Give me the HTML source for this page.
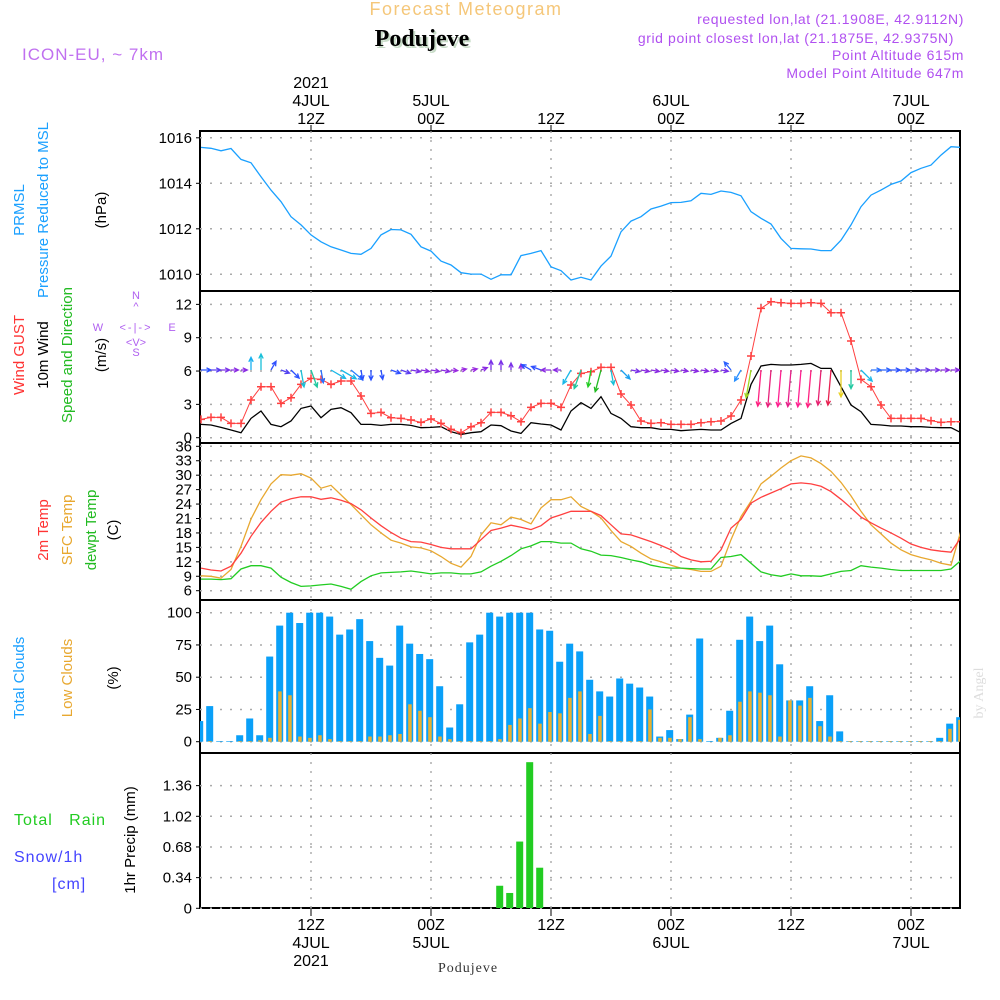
<!DOCTYPE html>
<html><head><meta charset="utf-8">
<style>
html,body{margin:0;padding:0;background:#fff;}
svg{display:block;font-family:"Liberation Sans",sans-serif;}
.tk{font-size:15px;fill:#000;text-anchor:end;}
.tl{font-size:16px;fill:#000;text-anchor:middle;}
</style></head>
<body>
<svg id="chart" width="1000" height="1000" viewBox="0 0 1000 1000" xmlns="http://www.w3.org/2000/svg">
<text x="466" y="15" font-size="18" fill="#f5c77a" text-anchor="middle" letter-spacing="1.5">Forecast Meteogram</text>
<text x="424" y="48" font-size="24" font-weight="bold" fill="#c8dcc8" font-family="Liberation Serif,serif" text-anchor="middle">Podujeve</text>
<text x="422" y="46" font-size="24" font-weight="bold" fill="#000" font-family="Liberation Serif,serif" text-anchor="middle">Podujeve</text>
<text x="22" y="60" font-size="17" fill="#c070f0" letter-spacing="1">ICON-EU, ~ 7km</text>
<g font-size="14" fill="#b050f0" text-anchor="end" letter-spacing="0.6">
<text x="964" y="24">requested lon,lat (21.1908E, 42.9112N)</text>
<text x="954" y="43">grid point closest lon,lat (21.1875E, 42.9375N)</text>
<text x="964" y="60">Point Altitude 615m</text>
<text x="964" y="78">Model Point Altitude 647m</text>
</g>
<g id="frames"></g>
<g id="grid"></g>
<g id="marks"></g>
<g id="axes"></g>
<g id="labels">
<g font-size="15">
<text transform="translate(24,210) rotate(-90)" fill="#1aa0ff" text-anchor="middle">PRMSL</text>
<text transform="translate(48,210) rotate(-90)" fill="#1aa0ff" text-anchor="middle">Pressure Reduced to MSL</text>
<text transform="translate(106,210) rotate(-90)" fill="#000" text-anchor="middle">(hPa)</text>
<text transform="translate(24,355) rotate(-90)" fill="#ff3333" text-anchor="middle">Wind GUST</text>
<text transform="translate(48,355) rotate(-90)" fill="#000" text-anchor="middle">10m Wind</text>
<text transform="translate(72,355) rotate(-90)" fill="#22bb22" text-anchor="middle">Speed and Direction</text>
<text transform="translate(106,355) rotate(-90)" fill="#000" text-anchor="middle">(m/s)</text>
<text transform="translate(48,530) rotate(-90)" fill="#ff3333" text-anchor="middle">2m Temp</text>
<text transform="translate(72,530) rotate(-90)" fill="#e8a830" text-anchor="middle">SFC Temp</text>
<text transform="translate(96,530) rotate(-90)" fill="#22bb22" text-anchor="middle">dewpt Temp</text>
<text transform="translate(118,530) rotate(-90)" fill="#000" text-anchor="middle">(C)</text>
<text transform="translate(24,678) rotate(-90)" fill="#1aa0ff" text-anchor="middle">Total Clouds</text>
<text transform="translate(72,678) rotate(-90)" fill="#e8a830" text-anchor="middle">Low Clouds</text>
<text transform="translate(118,678) rotate(-90)" fill="#000" text-anchor="middle">(%)</text>
<text transform="translate(135,840) rotate(-90)" fill="#000" text-anchor="middle">1hr Precip (mm)</text>
</g>
<g font-size="16" letter-spacing="1">
<text x="14" y="825" fill="#22cc22">Total&#160;&#160;&#160;Rain</text>
<text x="14" y="862" fill="#4444ff">Snow/1h</text>
<text x="52" y="889" fill="#4444ff">[cm]</text>
</g>
<g fill="#b060f0" font-size="11">
<text x="136" y="299" text-anchor="middle">N</text>
<text x="136" y="310" text-anchor="middle">^</text>
<text x="98" y="331" text-anchor="middle">W</text>
<text x="136" y="331" text-anchor="middle" letter-spacing="2">&lt;-|-&gt;</text>
<text x="172" y="331" text-anchor="middle">E</text>
<text x="136" y="346" text-anchor="middle">&lt;V&gt;</text>
<text x="136" y="356" text-anchor="middle">S</text>
</g>
<text x="468" y="972" font-size="14" font-family="Liberation Serif,serif" fill="#333" text-anchor="middle" letter-spacing="1">Podujeve</text>
<text transform="translate(983,693) rotate(-90)" font-size="14" font-family="Liberation Serif,serif" fill="#ddd" text-anchor="middle">by Angel</text>
</g>
</svg>
<script>
const hoursP = 77;
const pressure = [1015.58,1015.54,1015.43,1015.53,1015.05,1014.9,1014.29,1013.7,1013.19,1012.53,1012.17,1011.73,1011.43,1011.21,1011.07,1010.92,1010.88,1011.14,1011.73,1011.97,1011.95,1011.76,1011.21,1011.02,1010.58,1010.41,1010.07,1010.01,1010.01,1009.78,1009.98,1009.98,1010.82,1010.92,1011.04,1010.33,1010.16,1009.75,1009.87,1009.75,1010.36,1010.8,1011.87,1012.34,1012.53,1012.87,1013.0,1013.15,1013.16,1013.23,1013.56,1013.51,1013.66,1013.6,1013.45,1012.75,1012.46,1012.21,1011.58,1011.14,1011.12,1011.11,1011.04,1011.04,1011.5,1012.17,1012.97,1013.48,1013.7,1013.95,1014.1,1014.47,1014.66,1014.8,1015.24,1015.61,1015.58];
const gust = [1.65,1.83,1.83,1.29,1.29,3.39,4.59,4.59,3.09,3.6,4.8,5.34,5.25,4.8,5.1,5.1,3.75,2.19,2.28,1.8,1.74,1.59,1.38,1.68,1.29,0.75,0.45,0.99,1.35,2.28,2.28,1.98,1.44,2.73,3.09,3.09,2.73,4.74,5.79,5.94,6.33,6.33,3.93,2.94,1.5,1.29,1.35,1.2,1.2,1.2,1.35,1.44,1.5,1.95,3.39,7.35,11.64,12.24,12.15,12.09,12.09,12.15,12.09,11.25,11.25,8.7,5.25,4.59,2.94,1.74,1.74,1.74,1.74,1.53,1.38,1.44,1.44];
const wind = [1.2,1.14,0.93,0.69,0.45,1.74,2.4,1.2,0.99,1.5,2.64,2.85,1.8,2.55,2.7,2.25,1.2,1.2,1.11,1.2,1.2,1.11,0.9,0.93,0.99,0.54,0.3,0.45,0.54,1.14,1.08,0.6,0.39,1.35,1.23,1.14,0.69,2.4,3.15,2.64,3.69,2.19,1.74,0.99,0.9,0.9,0.75,0.75,0.63,0.69,0.75,0.69,0.69,1.29,1.74,4.8,6.45,6.6,6.54,6.54,6.6,6.69,6.24,6.24,4.59,2.94,2.34,1.2,1.14,1.05,1.05,0.99,0.99,0.93,0.9,0.9,0.45];
const windDir = [0,0,0,0,0,-90,-90,-60,20,45,80,70,80,30,30,40,80,90,80,20,20,10,10,10,10,5,-10,-10,-20,-90,-90,-90,-90,-150,-160,180,180,120,110,100,105,80,45,10,10,10,10,10,10,10,10,10,10,-130,120,100,95,95,95,95,95,95,95,95,90,90,45,0,0,0,0,0,0,0,0,0,0];
const windCol = ['#2a50ff','#5a3cf0','#7a30e8','#8a2be2','#8a2be2','#19b0f0','#19c0d8','#3050ff','#5040f0','#2a50ff','#19c0d8','#20c8a0','#2a70ff','#19b8e8','#19b8e8','#2a80ff','#2a50ff','#2a50ff','#2a50ff','#3050ff','#5a3cf0','#7a30e8','#8a2be2','#8a2be2','#8a2be2','#9a2be0','#9a2be0','#9a2be0','#8a2be2','#7a30e8','#7a30e8','#7a30e8','#8a2be2','#2a50ff','#3050ff','#8a2be2','#8a2be2','#19b8e8','#20c8a0','#22cc22','#22bb22','#19c0d8','#19a0f0','#7a30e8','#8a2be2','#8a2be2','#8a2be2','#8a2be2','#8a2be2','#8a2be2','#8a2be2','#8a2be2','#7a30e8','#2a60ff','#2a90ff','#a0d820','#ff2080','#e8207a','#ff2090','#e8208a','#ff2090','#ff2080','#e82070','#e82050','#e8d020','#20c8a0','#19b8e8','#2a70ff','#2a60ff','#2a50ff','#3050ff','#5040f0','#6a38e8','#7a30e8','#8a2be2','#8a2be2','#8a2be2'];
const temp2m = [10.7,10.3,10.1,11.1,13.8,17.3,20.2,22.5,24.4,25.1,25.5,25.5,25.0,25.3,24.8,24.1,22.8,21.1,19.5,18.1,16.9,16.2,16.1,15.6,15.0,14.7,14.7,14.7,16.6,18.5,19.0,19.6,19.2,18.7,19.5,21.1,21.8,22.5,22.5,22.5,21.6,19.7,17.8,17.6,16.9,16.2,15.4,14.5,13.1,12.4,12.0,12.1,14.5,19.0,20.8,24.2,25.4,26.3,27.2,28.2,28.4,28.2,27.7,26.6,25.0,23.2,21.3,20.1,19.0,18.0,16.9,15.7,15.0,14.5,14.2,14.0,17.1];
const tempSfc = [9.1,9.0,8.6,10.4,15.2,20.9,24.9,28.2,30.1,30.0,30.3,29.4,27.3,27.9,25.9,23.9,21.8,19.7,18.0,16.5,15.9,15.1,14.9,14.3,13.1,11.7,10.9,13.1,17.6,20.1,19.7,21.3,20.8,19.9,23.2,24.9,24.9,25.5,23.5,22.5,21.1,18.5,16.2,15.2,13.8,12.6,12.0,11.3,10.7,10.4,10.0,10.0,11.1,16.6,21.4,24.6,28.2,29.8,31.5,33.0,34.0,33.6,32.4,30.8,28.5,25.7,22.5,19.7,17.8,15.9,14.5,13.5,12.9,12.4,11.7,11.3,18.5];
const dewpt = [8.4,8.4,8.3,8.5,10.5,11.2,11.2,10.7,8.8,7.7,6.9,7.0,7.2,7.4,6.9,6.3,7.9,9.1,9.7,9.8,9.9,10.1,9.8,9.5,9.7,9.7,9.5,9.5,9.9,11.1,12.1,13.3,14.7,15.3,16.2,16.2,15.9,15.9,14.7,14.2,13.4,13.3,12.9,12.4,12.0,11.3,10.9,10.7,10.7,10.6,10.5,10.5,12.9,13.1,13.5,11.7,9.9,9.3,9.0,9.5,9.1,9.1,9.0,9.5,10.0,10.2,11.2,10.9,10.7,10.4,10.2,10.2,10.2,10.2,10.2,10.5,12.3];
const totalCloud = [16,27.6,0.5,0.5,5,18,5,66,90,100,92,100,100,97,83,87,95,78,65,59,90,76,68,64,43,11,29,77,83,100,97,100,100,100,87,86,62,76,70,48,39,35,49,45,42,35,4,9,2,21,80,0.5,3,24,79,97,78,90,60,32,32,43,16,36,8,0.5,0.5,0.5,0.5,0.5,0.5,0.5,0.5,0.5,3,14,19];
const lowCloud = [0,0.5,0,0,0.5,0.5,1,3,39,36,4,3,5,2,0.5,0.5,0.5,4,4,5,6,29,24,19,4,2,0.5,0.5,0.5,0.5,2,13,18,26,14,23,22,34,39,6,20,0.5,0.5,0.5,0.5,25,3,3,2,19,2,0,3,5,31,39,38,36,4,32,28,34,12,4,0.5,0.5,0.5,0.5,0.5,0.5,0.5,0.5,0.5,0.5,0.5,10,17];
const precipHours = [31,32,33,34,35];
const precip = [0.25,0.17,0.74,1.62,0.45];
const timeHours = [12,24,36,48,60,72];
const timeLabels = [['12Z','4JUL','2021'],['00Z','5JUL'],['12Z'],['00Z','6JUL'],['12Z'],['00Z','7JUL']];
const pTicks = [1010,1012,1014,1016];
const wTicks = [0,3,6,9,12];
const tTicks = [6,9,12,15,18,21,24,27,30,33,36];
const cTicks = [0,25,50,75,100];
const rTicks = [0,0.34,0.68,1.02,1.36];

const NS='http://www.w3.org/2000/svg';
const X0=200,X1=960;
const xs = h => 191 + 10*h;
const yP = v => 274.3 - (v-1010)*22.75;
const yW = v => 437.7 - v*11.11;
const yT = v => 590.7 - (v-6)*4.813;
const yC = v => 741.7 - v*1.29;
const yR = v => 908.3 - v*90.2;
const panels = [[131,291,yP,pTicks,v=>String(v)],[291,443,yW,wTicks,v=>String(v)],[443,600,yT,tTicks,v=>String(v)],[600,753,yC,cTicks,v=>String(v)],[753,908,yR,rTicks,v=>v===0?'0':v.toFixed(2)]];
function mk(tag,attrs,parent){const e=document.createElementNS(NS,tag);for(const k in attrs)e.setAttribute(k,attrs[k]);parent.appendChild(e);return e;}
const G=document.getElementById('grid'),M=document.getElementById('marks'),A=document.getElementById('axes'),F=document.getElementById('frames');
const svg=document.getElementById('chart');
const defs=mk('defs',{},svg);
const cp=mk('clipPath',{id:'plotclip'},defs);mk('rect',{x:X0,y:131,width:X1-X0,height:777},cp);
M.setAttribute('clip-path','url(#plotclip)');

panels.forEach((p,pi)=>{
  const [top,bot,ys,ticks,fmt]=p;
  ticks.forEach(v=>{
    const y=ys(v);
    const gl=mk('line',{x1:X0,x2:X1,y1:y,y2:y,stroke:'#aaa','stroke-width':1.5,'stroke-dasharray':'2,8'},G);
    
    
    const tl=mk('text',{x:192,y:y+5,class:'tk'},A);tl.textContent=fmt(v);
    
    
    mk('line',{x1:X0-4,x2:X0,y1:y,y2:y,stroke:'#000'},A);
  });
  timeHours.forEach(h=>{
    const vg=mk('line',{x1:xs(h),x2:xs(h),y1:top,y2:bot,stroke:'#999','stroke-width':1.2,'stroke-dasharray':'2,7'},G);
    
    
  });
  const fr=mk('rect',{x:X0,y:top,width:X1-X0,height:bot-top,fill:'none',stroke:'#000','stroke-width':2},F);
  
  
});
timeHours.forEach((h,i)=>{
  mk('line',{x1:xs(h),x2:xs(h),y1:125,y2:131,stroke:'#000'},A);
  mk('line',{x1:xs(h),x2:xs(h),y1:908,y2:916,stroke:'#000'},A);
  const lab=timeLabels[i];
  lab.forEach((s,j)=>{
    const t=mk('text',{x:xs(h),y:124-18*j,class:'tl'},A);t.textContent=s;
    
    
  });
  lab.forEach((s,j)=>{
    const t=mk('text',{x:xs(h),y:930+18*j,class:'tl'},A);t.textContent=s;
    
    
  });
});
function line(arr,ys,col,name,w){
  const pts=arr.map((v,i)=>xs(i+1).toFixed(1)+','+ys(v).toFixed(1)).join(' ');
  const pl=mk('polyline',{points:pts,fill:'none',stroke:col,'stroke-width':w||1.3},M);
  
  
}
totalCloud.forEach((v,i)=>{
  const x=xs(i+1)-1.3,y=yC(v);
  const r=mk('rect',{x:x-3.5,y:y,width:7,height:yC(0)-y,fill:'#0aa0f8'},M);
  
  
});
lowCloud.forEach((v,i)=>{
  const x=xs(i+1)-1.3,y=yC(v);
  const r=mk('rect',{x:x-1.5,y:y,width:3.5,height:yC(0)-y,fill:'#e8b030'},M);
  
  
});
precip.forEach((v,i)=>{
  const x=xs(precipHours[i])-1.3,y=yR(v);
  const r=mk('rect',{x:x-3.5,y:y,width:7,height:yR(0)-y,fill:'#22cc22'},M);
  
  
});
line(pressure,yP,'#1aa0ff','pressure-line');
line(tempSfc,yT,'#e8a830','sfc-temp-line');
line(temp2m,yT,'#ff4040','temp-2m-line');
line(dewpt,yT,'#22cc22','dewpt-line');
line(wind,yW,'#000','wind-speed-line');
line(gust,yW,'#ff4040','gust-line',1);
gust.forEach((v,i)=>{
  const x=xs(i+1),y=yW(v);
  const p=mk('path',{d:`M${x-4},${y}H${x+4}M${x},${y-4}V${y+4}`,stroke:'#ff4040','stroke-width':1.5},M);
  
  
});
windDir.forEach((d,i)=>{
  const x=xs(i+1),y=370,L=4+5*wind[i],a=d*Math.PI/180;
  const x2=x+L*Math.cos(a),y2=y+L*Math.sin(a);
  const h1=a+Math.PI-0.45,h2=a+Math.PI+0.45;
  const p=mk('path',{d:`M${x},${y}L${x2.toFixed(1)},${y2.toFixed(1)}M${(x2+5*Math.cos(h1)).toFixed(1)},${(y2+5*Math.sin(h1)).toFixed(1)}L${x2.toFixed(1)},${y2.toFixed(1)}L${(x2+5*Math.cos(h2)).toFixed(1)},${(y2+5*Math.sin(h2)).toFixed(1)}`,stroke:windCol[i],'stroke-width':1.3,fill:'none'},M);
  
  
});
</script>
</body></html>
